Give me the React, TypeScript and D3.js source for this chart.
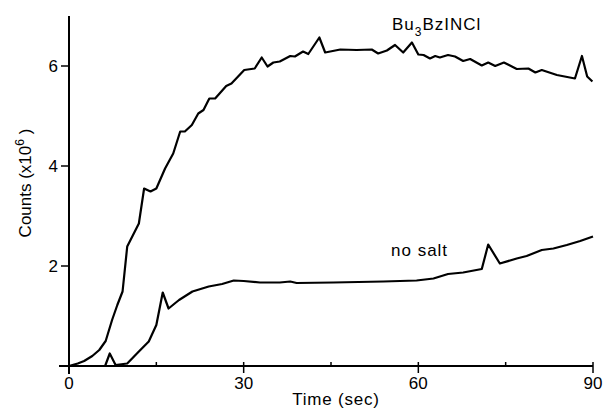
import React from 'react';
import * as d3 from 'd3';

// Bu3BzINCl curve (time in sec, counts x10^6)
const bu3Time = [0, 1.5, 2.6, 4.0, 5.2, 6.3, 7.4, 8.3, 9.2, 10.0, 12.0, 12.9, 14.0, 15.0, 16.5, 17.9, 19.1, 19.9, 21.1, 22.2, 23.1, 24.1, 25.1, 27.0, 27.9, 30.1, 31.9, 33.1, 34.1, 35.1, 36.2, 38.0, 38.8, 40.2, 41.1, 43.0, 44.0, 46.6, 49.4, 52.0, 53.1, 54.6, 56.0, 57.4, 58.9, 60.0, 60.9, 62.0, 62.9, 63.7, 65.1, 66.3, 67.7, 68.9, 70.9, 72.0, 73.2, 74.7, 76.9, 78.9, 80.1, 81.2, 83.8, 86.9, 88.1, 89.0, 89.9];
const bu3Counts = [0, 0.05, 0.1, 0.2, 0.32, 0.5, 0.92, 1.22, 1.49, 2.39, 2.85, 3.55, 3.49, 3.55, 3.95, 4.25, 4.69, 4.69, 4.82, 5.05, 5.12, 5.35, 5.35, 5.6, 5.65, 5.92, 5.95, 6.17, 5.99, 6.07, 6.09, 6.2, 6.19, 6.29, 6.24, 6.57, 6.27, 6.33, 6.32, 6.33, 6.25, 6.31, 6.42, 6.27, 6.47, 6.23, 6.22, 6.15, 6.2, 6.17, 6.22, 6.19, 6.1, 6.14, 6.01, 6.07, 6.0, 6.07, 5.94, 5.95, 5.87, 5.92, 5.82, 5.75, 6.2, 5.79, 5.69];

// no salt curve
const noSaltTime = [0, 6.2, 7.0, 8.0, 10.0, 12.0, 13.7, 15.0, 16.1, 17.1, 18.9, 21.2, 24.0, 26.3, 28.3, 30.0, 32.8, 36.2, 38.0, 39.1, 45.4, 54.0, 59.7, 62.6, 65.1, 67.7, 70.9, 72.0, 74.0, 76.9, 78.6, 81.2, 83.2, 85.5, 87.8, 90.0];
const noSaltCounts = [0, 0, 0.25, 0.02, 0.05, 0.29, 0.49, 0.82, 1.47, 1.15, 1.32, 1.49, 1.59, 1.64, 1.71, 1.7, 1.67, 1.67, 1.69, 1.66, 1.67, 1.69, 1.71, 1.75, 1.84, 1.87, 1.94, 2.43, 2.05, 2.15, 2.2, 2.32, 2.35, 2.42, 2.5, 2.59];

const xMajorTicks = [0, 30, 60, 90];
const xMinorTicks = [15, 45, 75];
const yTicks = [2, 4, 6];

const W = 606;
const H = 412;
const font = '"Liberation Sans", Arial, Helvetica, sans-serif';

export default function App() {
  const x = d3.scaleLinear().domain([0, 90]).range([69, 593]);
  const y = d3.scaleLinear().domain([0, 7]).range([366, 16]);

  const line = d3.line<[number, number]>()
    .x(d => x(d[0]))
    .y(d => y(d[1]));

  const bu3 = bu3Time.map((t, i) => [t, bu3Counts[i]] as [number, number]);
  const noSalt = noSaltTime.map((t, i) => [t, noSaltCounts[i]] as [number, number]);

  const x0 = x(0);
  const y0 = y(0);

  return (
    <svg width={W} height={H} style={{ position: 'absolute', left: 0, top: 0, background: '#fff' }}
      fontFamily={font}>
      {/* axes */}
      <line x1={x0} x2={x0} y1={y(7)} y2={y0 + 8} stroke="#000" strokeWidth={2} />
      <line x1={x0 - 10} x2={x(90)} y1={y0} y2={y0} stroke="#000" strokeWidth={2} />

      {yTicks.map(v => (
        <g key={'y' + v}>
          <line x1={x0 - 8} x2={x0} y1={y(v)} y2={y(v)} stroke="#000" strokeWidth={1.5} />
          <text x={x0 - 11} y={y(v)} dy="0.36em" textAnchor="end" fontSize={17}>{v}</text>
        </g>
      ))}

      {xMajorTicks.map(v => (
        <g key={'x' + v}>
          <line x1={x(v)} x2={x(v)} y1={y0 - 4} y2={y0 + 7} stroke="#000" strokeWidth={1.5} />
          <text x={x(v)} y={y0 + 23} textAnchor="middle" fontSize={17}>{v}</text>
        </g>
      ))}
      {xMinorTicks.map(v => (
        <line key={'m' + v} x1={x(v)} x2={x(v)} y1={y0 - 4} y2={y0} stroke="#000" strokeWidth={1.5} />
      ))}

      <text x={336} y={405} textAnchor="middle" fontSize={17} letterSpacing={0.8}>Time (sec)</text>

      <text transform={`translate(31, 183) rotate(-90)`} textAnchor="middle" fontSize={17}>
        Counts (x10<tspan dy={-7} fontSize={12}>6</tspan><tspan dy={7}> )</tspan>
      </text>

      {/* curves */}
      <path d={line(bu3) || ''} fill="none" stroke="#000" strokeWidth={2.2} strokeLinejoin="round" />
      <path d={line(noSalt) || ''} fill="none" stroke="#000" strokeWidth={2.2} strokeLinejoin="round" />

      <text x={392} y={30} fontSize={17} letterSpacing={1}>
        Bu<tspan dy={6} fontSize={12}>3</tspan><tspan dy={-6}>BzINCl</tspan>
      </text>
      <text x={391} y={256} fontSize={17} letterSpacing={1}>no salt</text>
    </svg>
  );
}
